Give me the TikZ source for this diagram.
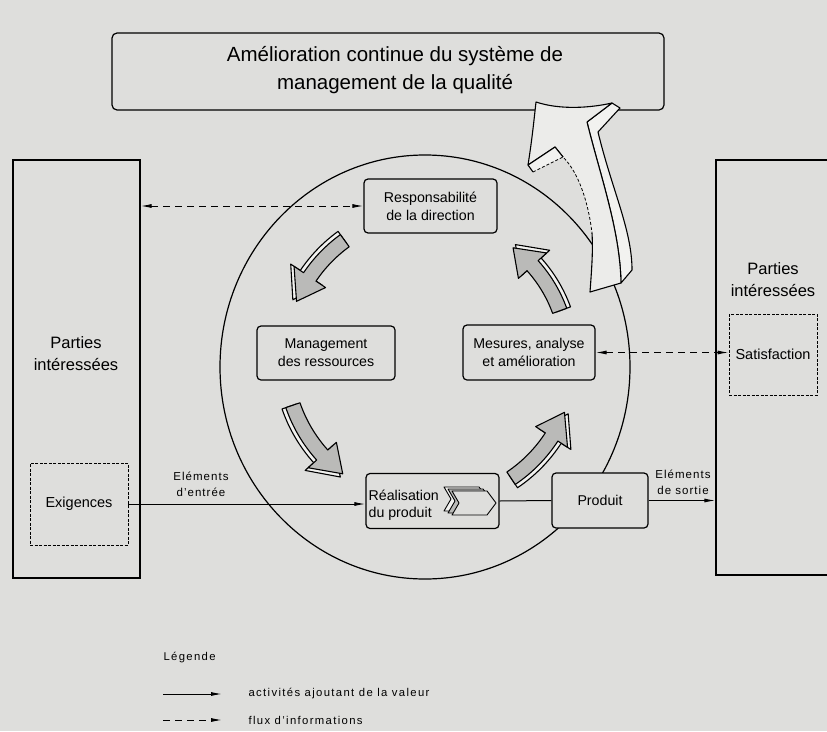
\documentclass[tikz,border=0pt]{standalone}
\usepackage{fontspec}
\setmainfont{Liberation Sans}
\usetikzlibrary{arrows.meta,shapes.geometric,calc}
\definecolor{bg}{RGB}{222,222,220}
\definecolor{afill}{RGB}{186,186,184}
\definecolor{aside}{RGB}{242,242,240}
\definecolor{bigfill}{RGB}{236,236,234}
\newcommand{\cycarrow}[4]{%
  \pgfmathsetmacro{\cmid}{#2-11}%
  \pgfmathsetmacro{\cro}{#3+7.5}%
  \pgfmathsetmacro{\cri}{#3-7.5}%
  \pgfmathsetmacro{\chout}{#3+19}%
  \pgfmathsetmacro{\chin}{#3-19}%
  \draw[#4] (#1:\cro pt) arc[start angle=#1, end angle=\cmid, radius=\cro pt]
    -- (\cmid:\chout pt) -- (#2:#3pt) -- (\cmid:\chin pt) -- (\cmid:\cri pt)
    arc[start angle=\cmid, end angle=#1, radius=\cri pt] -- cycle;
}
\tikzset{
  box/.style={draw, line width=1.2pt, rounded corners=4pt, fill=bg, align=center,
    inner sep=0pt, font=\fontsize{14.2}{18}\selectfont},
  plainbox/.style={draw, line width=1.2pt, fill=bg, inner sep=0pt},
  dbox/.style={draw, line width=0.8pt, dash pattern=on 3pt off 1.5pt, align=center,
    inner sep=0pt, font=\fontsize{14.5}{18}\selectfont},
  bigtxt/.style={align=center, font=\fontsize{16.5}{22}\selectfont},
  smalltxt/.style={align=center, font=\fontsize{11.5}{16}\selectfont\addfontfeatures{LetterSpace=9}},
  legtxt/.style={anchor=west, font=\fontsize{11.3}{13}\selectfont\addfontfeatures{LetterSpace=12}},
  val/.style={line width=1pt, -{Latex[length=11pt,width=4pt]}},
  info/.style={line width=1pt, dash pattern=on 7pt off 5pt,
    {Latex[length=11pt,width=4pt]}-{Latex[length=11pt,width=4pt]}},
  infoone/.style={line width=1pt, dash pattern=on 7pt off 5pt, -{Latex[length=11pt,width=4pt]}},
  cycside/.style={line width=1.1pt, fill=aside, line join=round},
  cycfront/.style={line width=1.1pt, fill=afill, line join=round},
  bigline/.style={line width=1.1pt, line join=round},
}
\begin{document}
\begin{tikzpicture}[x=1pt,y=1pt]
\useasboundingbox (0,0) rectangle (827,-731);
\fill[bg] (0,0) rectangle (827,-731);

% title box
\node[plainbox, rounded corners=5pt, minimum width=552pt, minimum height=77pt] (title) at (388,-71.5) {};
\node[align=center, font=\fontsize{20.5}{28}\selectfont] (titletxt) at (395,-70)
  {Amélioration continue du système de\\management de la qualité};

% big circle
\node[draw, ellipse, line width=1.2pt, minimum width=410pt, minimum height=424pt, inner sep=0pt] (cyc) at (425,-367) {};

% interested parties
\node[plainbox, fill=none, minimum width=127pt, minimum height=418pt] (leftP) at (76.5,-369) {};
\node[bigtxt] (leftPtxt) at (76,-354) {Parties\\intéressées};
\node[dbox, minimum width=98pt, minimum height=82pt] (exig) at (79,-504) {Exigences};

\node[plainbox, fill=none, minimum width=124pt, minimum height=415pt] (rightP) at (778,-367.5) {};
\node[bigtxt] (rightPtxt) at (773,-280) {Parties\\intéressées};
\node[dbox, minimum width=88pt, minimum height=81pt] (satis) at (773,-354.5) {Satisfaction};

% process boxes
\node[box, minimum width=133pt, minimum height=54pt] (resp) at (430.5,-206) {Responsabilité\\de la direction};
\node[box, minimum width=138pt, minimum height=54pt] (mgmt) at (326,-353) {Management\\des ressources};
\node[box, minimum width=132pt, minimum height=55pt] (mes) at (529,-352.5) {Mesures, analyse\\et amélioration};
\node[box, minimum width=133pt, minimum height=55pt] (real) at (432.5,-501) {};
\node[box, minimum width=96pt, minimum height=55pt] (prod) at (600,-500.5) {Produit};

% chevrons in realisation box
\begin{scope}[line width=0.9pt, line join=round]
  \filldraw[fill=aside] (444,-487) -- (479,-487) -- (488,-499) -- (479,-511) -- (444,-511) -- (451,-499) -- cycle;
  \filldraw[fill=afill] (448,-489) -- (483,-489) -- (492,-501) -- (483,-513) -- (448,-513) -- (455,-501) -- cycle;
  \filldraw[fill=bg] (452,-491) -- (487,-491) -- (496,-503) -- (487,-515) -- (452,-515) -- (459,-503) -- cycle;
\end{scope}
\node[anchor=west, align=left, inner sep=0pt, font=\fontsize{14.2}{17}\selectfont] (realtxt) at ([xshift=3pt,yshift=-4pt]real.west) {Réalisation\\du produit};

% connectors
\draw[info] (leftP.east |- resp.west) -- (resp.west);
\draw[info] (mes.east) -- (mes.east -| satis.west);
\draw[val] (exig.east) -- (real.west |- exig.east);
\draw[line width=1pt] (real.east) -- (prod.west);
\draw[val] (prod.east) -- (prod.east -| rightP.west);

\node[smalltxt] (inlab) at (201,-484) {Eléments\\d'entrée};
\node[smalltxt] (outlab) at (683,-482) {Eléments\\de sortie};

% cycle arrows
\begin{scope}[shift={(430,-358)}]
  \cycarrow{126}{157}{149}{cycside}
  \cycarrow{126}{157}{145}{cycfront}
  \cycarrow{199}{233}{149}{cycside}
  \cycarrow{199}{233}{145}{cycfront}
  \cycarrow{304}{338}{149}{cycside}
  \cycarrow{304}{338}{145}{cycfront}
  \cycarrow{20}{53}{142}{cycside}
  \cycarrow{20}{53}{138}{cycfront}
\end{scope}

% big improvement arrow
\filldraw[bigline, fill=aside] (612,-103) -- (620,-108) -- (598,-132)
  .. controls (612,-190) and (632,-230) .. (632,-270) -- (621,-283)
  .. controls (620,-230) and (600,-175) .. (587,-122) -- cycle;
\fill[bigfill] (536,-102) .. controls (560,-110) and (590,-108) .. (612,-103) -- (587,-122)
  .. controls (600,-175) and (620,-230) .. (621,-283) -- (590,-292)
  .. controls (592,-265) and (593,-250) .. (592,-233)
  .. controls (588,-200) and (578,-172) .. (563,-157) -- (555,-147) -- (528,-165)
  .. controls (532,-140) and (534,-120) .. (536,-102) -- cycle;
\draw[bigline] (592,-233) .. controls (593,-250) and (592,-265) .. (590,-292) -- (621,-283)
  .. controls (620,-230) and (600,-175) .. (587,-122) -- (612,-103)
  .. controls (590,-108) and (560,-110) .. (536,-102)
  .. controls (534,-120) and (532,-140) .. (528,-165) -- (555,-147) -- (563,-157);
\fill[aside] (528,-165) -- (533,-172) -- (563,-157) -- (555,-147) -- cycle;
\draw[bigline] (528,-165) -- (533,-172);
\draw[bigline] (528,-165) -- (555,-147) -- (563,-157);
\draw[line width=0.8pt, dash pattern=on 3pt off 2pt] (533,-172) -- (563,-157)
  .. controls (578,-172) and (588,-200) .. (592,-233);

% legend
\node[legtxt] (legtitle) at (160,-658) {Légende};
\coordinate (l1a) at (163,-694);
\coordinate (l1b) at (222,-694);
\coordinate (l2a) at (163,-720);
\coordinate (l2b) at (222,-720);
\draw[val] (l1a) -- (l1b);
\draw[infoone] (l2a) -- (l2b);
\node[legtxt] (leg1) at (245,-694) {activités ajoutant de la valeur};
\node[legtxt] (leg2) at (245,-720) {flux d'informations};
\end{tikzpicture}
\end{document}
